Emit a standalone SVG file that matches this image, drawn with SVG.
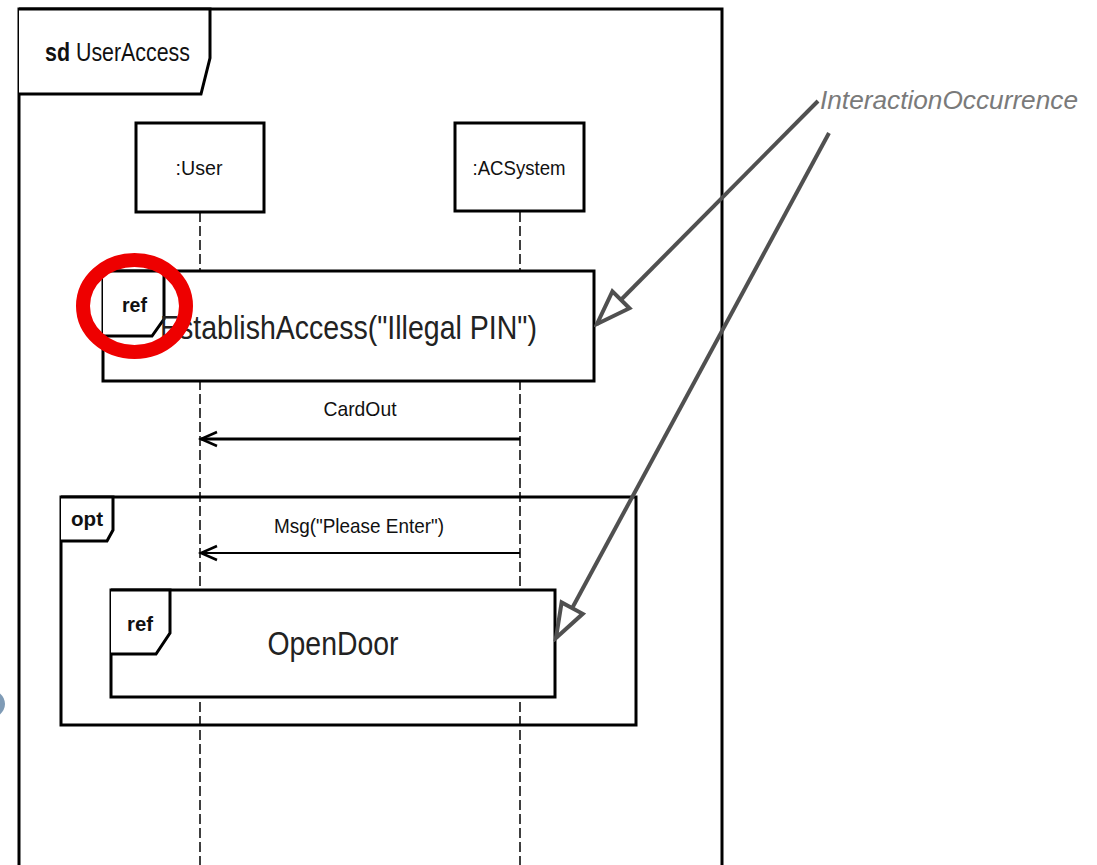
<svg xmlns="http://www.w3.org/2000/svg" width="1097" height="865" viewBox="0 0 1097 865">
  <style>
    .frame { fill: none; stroke: #000; stroke-width: 3; }
    .box { fill: #fff; stroke: #000; stroke-width: 3; }
    .tab { fill: #fff; stroke: #000; stroke-width: 3; stroke-linejoin: miter; }
    .lifeline { stroke: #000; stroke-width: 1.5; stroke-dasharray: 10 4; fill: none; }
    .msg { stroke: #000; fill: none; }
    .note-link { stroke: #505050; stroke-width: 4; fill: none; }
    text { font-family: "Liberation Sans", Arial, sans-serif; fill: #111; }
    .kw { font-weight: bold; font-size: 20px; }
    .label { font-size: 21px; }
    .big { font-size: 34px; fill: #222; }
    .note { font-size: 26px; font-style: italic; fill: #7a7a7a; }
  </style>
  <defs>
    <marker id="open" markerUnits="userSpaceOnUse" markerWidth="24" markerHeight="20" viewBox="-20 -10 24 20" refX="0" refY="0" orient="auto">
      <path d="M-16,-7 L0,0 L-16,7" fill="none" stroke="#000" stroke-width="2.5"/>
    </marker>
    <marker id="hollow" markerUnits="userSpaceOnUse" markerWidth="44" markerHeight="34" viewBox="-40 -17 44 34" refX="0" refY="0" orient="auto">
      <path d="M0,0 L-34,-12 L-34,12 Z" fill="#fff" stroke="#505050" stroke-width="4" stroke-linejoin="miter"/>
    </marker>
  </defs>

  <rect width="1097" height="865" fill="#fff"/>

  <!-- edge of a neighbouring shape -->
  <ellipse cx="-13" cy="704" rx="18" ry="15" fill="#7f9bb6"/>

  <!-- diagram frame -->
  <g id="frame">
    <path class="frame" d="M19,875 L19,9 L722,9 L722,875"/>
    <path class="tab" d="M19,9 L210,9 L210,58 L201,94 L19,94"/>
    <text x="45" y="61" font-size="25" font-weight="bold" textLength="25" lengthAdjust="spacingAndGlyphs">sd</text>
    <text x="76" y="61" font-size="25" textLength="114" lengthAdjust="spacingAndGlyphs">UserAccess</text>
  </g>

  <!-- lifelines -->
  <g id="lifelines">
    <line class="lifeline" x1="200" y1="212" x2="200" y2="865"/>
    <line class="lifeline" x1="520" y1="212" x2="520" y2="865"/>
  </g>

  <g id="user">
    <rect class="box" x="136" y="123" width="128" height="89"/>
    <text class="label" x="199" y="175" text-anchor="middle" textLength="47" lengthAdjust="spacingAndGlyphs">:User</text>
  </g>

  <g id="acsystem">
    <rect class="box" x="455" y="123" width="129" height="88"/>
    <text class="label" x="519" y="175" text-anchor="middle" textLength="93" lengthAdjust="spacingAndGlyphs">:ACSystem</text>
  </g>

  <g id="establish-access">
    <rect class="box" x="103" y="271" width="491" height="110"/>
    <path class="tab" d="M103,271 L164,271 L164,319 L152,336 L103,336"/>
    <text class="kw" x="122" y="312" textLength="25" lengthAdjust="spacingAndGlyphs">ref</text>
    <text class="big" x="160" y="339" textLength="377" lengthAdjust="spacingAndGlyphs">EstablishAccess("Illegal PIN")</text>
  </g>

  <g id="opt-fragment">
    <rect class="frame" x="61" y="497" width="575" height="228"/>
    <path class="tab" d="M61,497 L113,497 L113,530 L107,541 L61,541"/>
    <text class="kw" x="71" y="526" textLength="32" lengthAdjust="spacingAndGlyphs">opt</text>
  </g>

  <g id="open-door">
    <rect class="box" x="111" y="590" width="444" height="107"/>
    <path class="tab" d="M111,590 L170,590 L170,633 L156,654 L111,654"/>
    <text class="kw" x="127" y="631" textLength="26" lengthAdjust="spacingAndGlyphs">ref</text>
    <text class="big" x="333" y="655" text-anchor="middle" textLength="131" lengthAdjust="spacingAndGlyphs">OpenDoor</text>
  </g>

  <g id="note">
    <text class="note" x="820" y="109" textLength="258" lengthAdjust="spacingAndGlyphs">InteractionOccurrence</text>
  </g>

  <!-- connectors -->
  <g id="connectors">
    <line class="msg" x1="520" y1="439" x2="201" y2="439" stroke-width="3" marker-end="url(#open)"/>
    <text class="label" x="360" y="416" text-anchor="middle" textLength="73" lengthAdjust="spacingAndGlyphs">CardOut</text>

    <line class="msg" x1="520" y1="553" x2="201" y2="553" stroke-width="2" marker-end="url(#open)"/>
    <text class="label" x="359" y="533" text-anchor="middle" font-size="20" textLength="170" lengthAdjust="spacingAndGlyphs">Msg("Please Enter")</text>

    <line class="note-link" x1="818" y1="101" x2="597" y2="324" marker-end="url(#hollow)"/>
    <line class="note-link" x1="829" y1="133" x2="556" y2="638" marker-end="url(#hollow)"/>
  </g>

  <!-- highlight ring -->
  <g id="highlight">
    <ellipse cx="134.5" cy="306" rx="51.5" ry="46" fill="none" stroke="#ee0000" stroke-width="14"/>
  </g>
</svg>
